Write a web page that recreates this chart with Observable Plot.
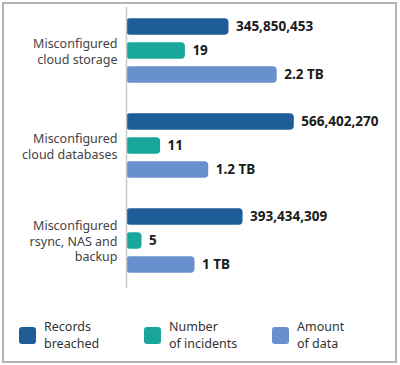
<!DOCTYPE html>
<html>
<head>
<meta charset="utf-8">
<script src="https://cdn.jsdelivr.net/npm/d3@7"></script>
<script src="https://cdn.jsdelivr.net/npm/@observablehq/plot@0.6"></script>
<style>
  body { margin: 0; background: #fff; font-family: "Noto Sans", sans-serif; }
  #frame { position: absolute; left: 2px; top: 2px; width: 395px; height: 361px; box-sizing: border-box; border: 2px solid #b4b4b4; }
  #chart { position: absolute; left: 0; top: 0; }
  .lg { position: absolute; top: 318px; display: flex; align-items: center; }
  .sw { width: 17px; height: 17px; border-radius: 3px; margin-right: 8px; flex: none; }
  .lt { font-size: 12.5px; color: #333; }
  .lt div { height: 17px; line-height: 17px; white-space: nowrap; }
</style>
</head>
<body>
<div id="frame"></div>
<div id="chart"></div>
<div id="legend"></div>
<script>
const categories = ["Misconfigured\ncloud storage", "Misconfigured\ncloud databases", "Misconfigured\nrsync, NAS and\nbackup"];
const seriesNames = ["Records\nbreached", "Number\nof incidents", "Amount\nof data"];
const recordsBreached = [345850453, 566402270, 393434309];
const incidents = [19, 11, 5];
const amountTB = [2.2, 1.2, 1.0];
const amountLabels = ["2.2 TB", "1.2 TB", "1 TB"];
const colors = ["#1f5d99", "#19a79c", "#6790cd"];
// each series gets its own full-width reference value (separate scales in the original)
const seriesFull = [925e6, 88.4, 4.0];

const series = [
  {values: recordsBreached, labels: recordsBreached.map(d => d3.format(",")(d))},
  {values: incidents, labels: incidents.map(String)},
  {values: amountTB, labels: amountLabels}
];

const W = 400, H = 290, mt = 2, mb = 2;
const step = (H - mt - mb) / categories.length;
const barH = 17, gap = 24;
const inset = (step - barH) / 2;

const marks = [];
series.forEach((s, i) => {
  const rows = categories.map((c, j) => ({cat: c, v: s.values[j] / seriesFull[i], label: s.labels[j]}));
  const dy = (i - 1) * gap;
  marks.push(Plot.barX(rows, {x: "v", y: "cat", fill: colors[i], rx: 4, insetTop: inset + dy, insetBottom: inset - dy}));
  marks.push(Plot.text(rows, {x: "v", y: "cat", text: "label", dy, dx: 7, textAnchor: "start", fontWeight: "bold", fontSize: 13.5, fill: "#1b1b1b"}));
});
marks.push(Plot.ruleX([0], {stroke: "#c9c9c9", strokeWidth: 1.5, insetTop: 5}));
marks.push(Plot.text(categories, {x: () => 0, y: d => d, text: d => d, textAnchor: "end", dx: -9, fontSize: 12.5, lineHeight: 1.24, fill: "#444"}));

const chart = Plot.plot({
  width: W, height: H,
  marginLeft: 126, marginRight: 0, marginTop: mt, marginBottom: mb,
  style: {fontFamily: "Noto Sans, sans-serif", background: "transparent"},
  x: {domain: [0, 1], axis: null},
  y: {domain: categories, padding: 0, axis: null},
  marks
});
document.getElementById("chart").appendChild(chart);

const lefts = [19, 144, 272];
const legend = document.getElementById("legend");
seriesNames.forEach((name, i) => {
  const item = document.createElement("div");
  item.className = "lg";
  item.style.left = lefts[i] + "px";
  const sw = document.createElement("div");
  sw.className = "sw";
  sw.style.background = colors[i];
  const t = document.createElement("div");
  t.className = "lt";
  name.split("\n").forEach(line => {
    const l = document.createElement("div");
    l.textContent = line;
    t.appendChild(l);
  });
  item.appendChild(sw); item.appendChild(t);
  legend.appendChild(item);
});
</script>
</body>
</html>
